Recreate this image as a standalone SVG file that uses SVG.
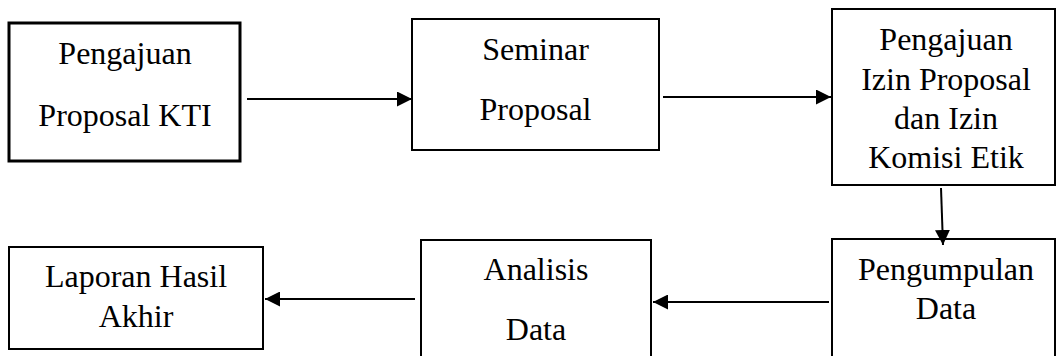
<svg xmlns="http://www.w3.org/2000/svg" width="1057" height="356" viewBox="0 0 1057 356">
<style>
.box{fill:#fff;stroke:#000;stroke-width:2}
.thick{stroke-width:3}
.lbl{font-size:32px;fill:#000;text-anchor:middle}
.conn{stroke:#000;stroke-width:2;fill:none;marker-end:url(#ah)}
</style>
<defs>
<marker id="ah" viewBox="0 0 15 15" refX="15" refY="7.5" markerWidth="15" markerHeight="15" markerUnits="userSpaceOnUse" orient="auto">
<path d="M0,0 L15,7.5 L0,15 z" fill="#000"/>
</marker>
</defs>
<rect width="1057" height="356" fill="#fff"/>
<g font-family="Liberation Serif, DejaVu Serif, serif">
<g id="node-pengajuan-proposal">
<rect class="box thick" x="9" y="23" width="231" height="138"/>
<text class="lbl" x="125" y="64">Pengajuan</text>
<text class="lbl" x="125" y="126">Proposal KTI</text>
</g>
<g id="node-seminar-proposal">
<rect class="box" x="412" y="19" width="247" height="131"/>
<text class="lbl" x="535.5" y="60">Seminar</text>
<text class="lbl" x="535.5" y="120">Proposal</text>
</g>
<g id="node-izin">
<rect class="box" x="832" y="9" width="223" height="176"/>
<text class="lbl" x="946" y="50">Pengajuan</text>
<text class="lbl" x="946" y="90">Izin Proposal</text>
<text class="lbl" x="946" y="129">dan Izin</text>
<text class="lbl" x="946" y="168">Komisi Etik</text>
</g>
<g id="node-pengumpulan-data">
<rect class="box" x="832" y="239" width="223" height="130"/>
<text class="lbl" x="946" y="280">Pengumpulan</text>
<text class="lbl" x="946" y="319">Data</text>
</g>
<g id="node-analisis-data">
<rect class="box" x="421" y="240" width="230" height="130"/>
<text class="lbl" x="536" y="280">Analisis</text>
<text class="lbl" x="536" y="340">Data</text>
</g>
<g id="node-laporan">
<rect class="box" x="9" y="247" width="254" height="102"/>
<text class="lbl" x="136" y="287">Laporan Hasil</text>
<text class="lbl" x="136" y="327">Akhir</text>
</g>
</g>
<g id="connectors">
<line class="conn" x1="247" y1="99" x2="412" y2="99"/>
<line class="conn" x1="663" y1="97" x2="831" y2="97"/>
<line class="conn" x1="941" y1="188" x2="943" y2="245"/>
<line class="conn" x1="829" y1="302" x2="653" y2="302"/>
<line class="conn" x1="415" y1="299" x2="265" y2="299"/>
</g>
</svg>
